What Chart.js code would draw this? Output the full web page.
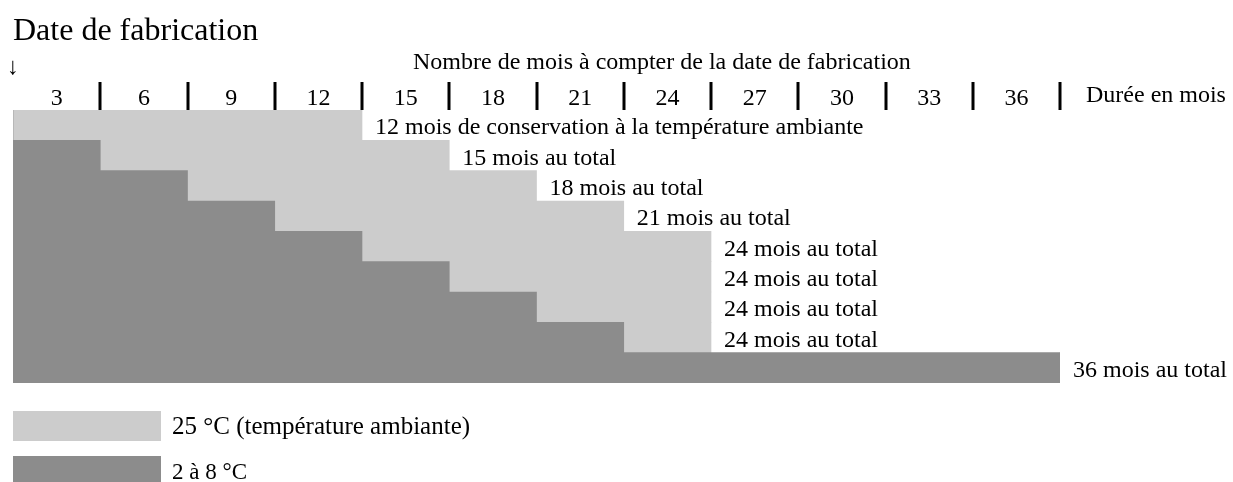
<!DOCTYPE html>
<html>
<head>
<meta charset="utf-8">
<script src="https://cdn.jsdelivr.net/npm/chart.js@4.4.1/dist/chart.umd.min.js"></script>
<style>
  body { margin: 0; background: #fff; }
  #wrap { width: 1233px; height: 482px; }
</style>
</head>
<body>
<div id="wrap"><canvas id="chart" width="1233" height="482"></canvas></div>
<script>
// one row per bar, top to bottom
const rowLabels = [
    "12 mois de conservation à la température ambiante",
    "15 mois au total",
    "18 mois au total",
    "21 mois au total",
    "24 mois au total",
    "24 mois au total",
    "24 mois au total",
    "24 mois au total",
    "36 mois au total",
];
const coldMonths = [0, 3, 6, 9, 12, 15, 18, 21, 36];
const roomMonths = [12, 12, 12, 12, 12, 9, 6, 3, 0];
const tickMonths = [3, 6, 9, 12, 15, 18, 21, 24, 27, 30, 33, 36];
const seriesNames = ["2 à 8 °C", "25 °C (température ambiante)"];
const seriesColors = ["#8c8c8c", "#cccccc"];

const serif = "'Liberation Serif', 'DejaVu Serif', serif";

const headerPlugin = {
    id: "header",
    afterDatasetsDraw(chart) {
        const ctx = chart.ctx;
        const x = chart.scales.x;
        const y = chart.scales.y;
        ctx.save();
        ctx.fillStyle = "#000";

        // title + arrow
        ctx.textBaseline = "alphabetic";
        ctx.textAlign = "left";
        ctx.font = "32px " + serif;
        ctx.fillText("Date de fabrication", 13, 40);
        ctx.font = "24px " + serif;
        ctx.fillText("↓", 7, 74);
        ctx.fillText("Nombre de mois à compter de la date de fabrication", 413, 69);

        // month scale with separators
        ctx.textAlign = "center";
        tickMonths.forEach(m => {
            const px = x.getPixelForValue(m);
            ctx.fillRect(Math.round(px) - 1.5, 82, 3, 28);
            const mid = (x.getPixelForValue(m - 3) + px) / 2;
            ctx.fillText(String(m), mid, 105);
        });
        ctx.textAlign = "left";
        ctx.fillText("Durée en mois", x.getPixelForValue(36) + 26, 102);

        // row labels at the end of each bar
        rowLabels.forEach((lbl, i) => {
            const end = x.getPixelForValue(coldMonths[i] + roomMonths[i]);
            ctx.fillText(lbl, end + 13, y.getPixelForValue(i) + 9);
        });

        // legend
        chart.data.datasets.slice().reverse().forEach((ds, k) => {
            const top = 411 + k * 45;
            ctx.fillStyle = ds.backgroundColor;
            ctx.fillRect(13, top, 148, 30);
            ctx.fillStyle = "#000";
            ctx.font = (k === 0 ? "25px " : "23px ") + serif;
            ctx.fillText(ds.label, 172, top + 23);
        });
        ctx.restore();
    }
};

new Chart(document.getElementById("chart"), {
    type: "bar",
    data: {
        labels: rowLabels,
        datasets: [
            { label: seriesNames[0], data: coldMonths, backgroundColor: seriesColors[0] },
            { label: seriesNames[1], data: roomMonths, backgroundColor: seriesColors[1] },
        ],
    },
    options: {
        indexAxis: "y",
        responsive: false,
        animation: false,
        layout: { padding: { left: 13, right: 173, top: 110, bottom: 99 } },
        datasets: { bar: { categoryPercentage: 1, barPercentage: 1, borderWidth: 0 } },
        scales: {
            x: { stacked: true, min: 0, max: 36, display: false },
            y: { stacked: true, display: false },
        },
        plugins: {
            legend: { display: false },
            tooltip: { enabled: false },
        },
    },
    plugins: [headerPlugin],
});
</script>
</body>
</html>
